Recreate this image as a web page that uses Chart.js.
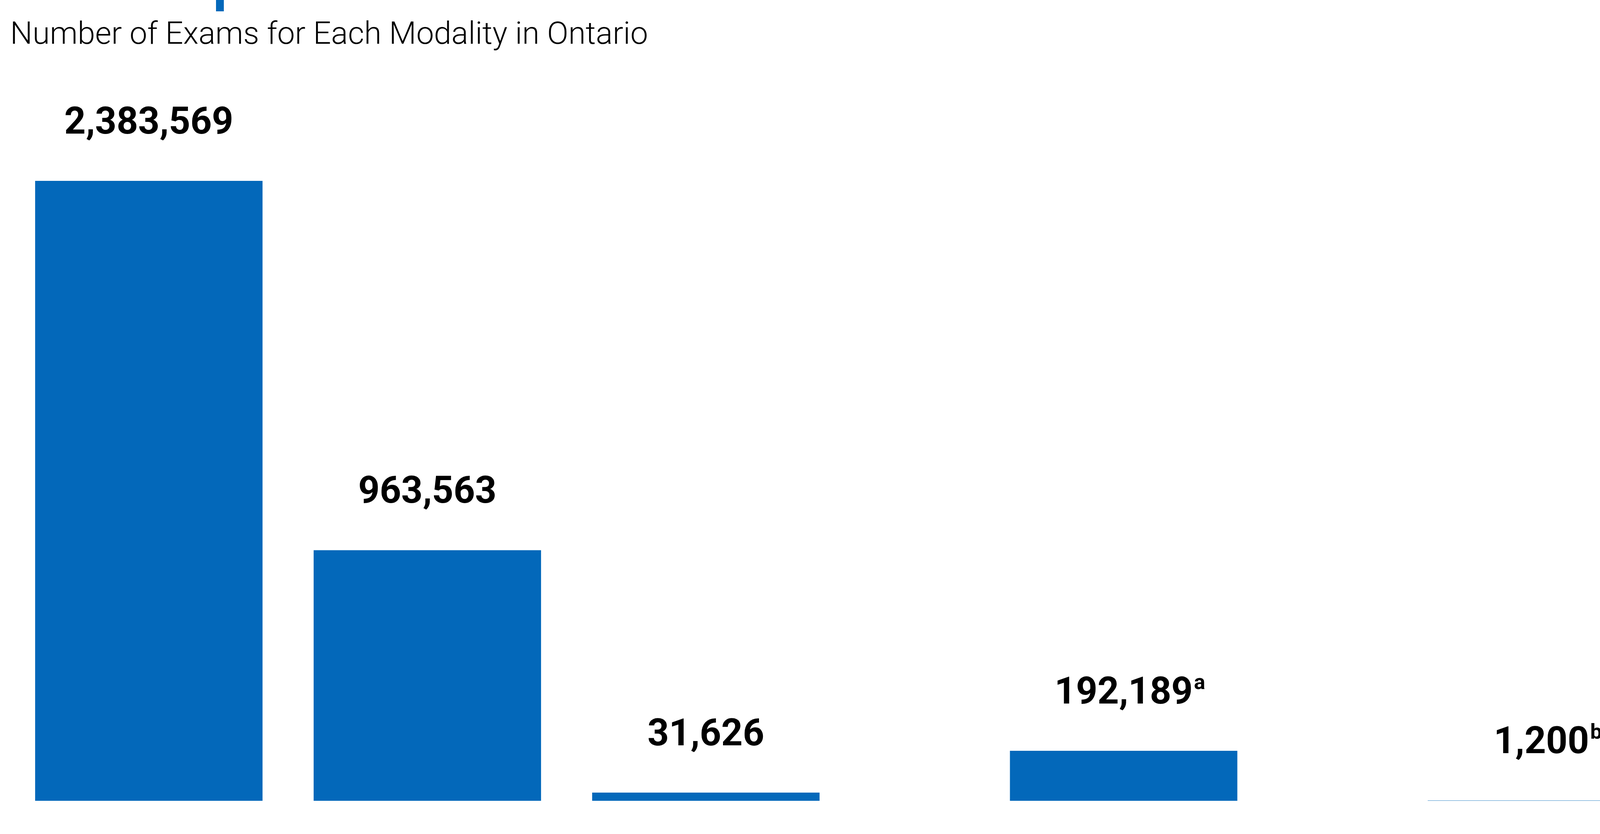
<!DOCTYPE html>
<html><head><meta charset="utf-8">
<script src="https://cdn.jsdelivr.net/npm/chart.js@4"></script>
<style>html,body{margin:0;padding:0;background:#fff}#wrap{width:4270px;height:2135px;position:relative}canvas{display:block}</style>
</head><body><div id="wrap"><canvas id="c" width="4270" height="2135"></canvas></div>
<script>
// ---- data ----
const categories = ['Modality 1', 'Modality 2', 'Modality 3', 'Modality 4', 'Modality 5'];
const examCounts = [2383569, 963563, 31626, 192189, 1200];
const footnotes = ['', '', '', 'a', 'b'];
const chartTitle = 'Number of Exams for Each Modality in Ontario';

// ---- layout (empty slots inserted before each category) ----
const gapsBefore = [0, 1, 1, 2, 2];
const BLUE = '#0368BA';

const slotLabels = [], slotValues = [], slotNotes = [];
categories.forEach((c, i) => {
  for (let g = 0; g < gapsBefore[i]; g++) { slotLabels.push(''); slotValues.push(null); slotNotes.push(''); }
  slotLabels.push(c); slotValues.push(examCounts[i]); slotNotes.push(footnotes[i]);
});

const valueLabels = {
  id: 'valueLabels',
  afterDatasetsDraw(chart) {
    const ctx = chart.ctx;
    const meta = chart.getDatasetMeta(0);
    const data = chart.data.datasets[0].data;
    meta.data.forEach((bar, i) => {
      const v = data[i];
      if (v == null) return;
      const txt = v.toLocaleString('en-US');
      ctx.save();
      ctx.fillStyle = '#000';
      ctx.textBaseline = 'alphabetic';
      ctx.font = '700 96px Roboto';
      ctx.textAlign = 'center';
      const y = bar.y - 121;
      ctx.fillText(txt, bar.x, y);
      const note = slotNotes[i];
      if (note) {
        const w = ctx.measureText(txt).width;
        ctx.font = '700 54px Roboto';
        ctx.textAlign = 'left';
        ctx.fillText(note, bar.x + w / 2 + 3, y - 37);
      }
      ctx.restore();
    });
  }
};

const topMark = {
  id: 'topMark',
  beforeDraw(chart) {
    const ctx = chart.ctx;
    ctx.save();
    ctx.fillStyle = BLUE;
    ctx.fillRect(553, 0, 20, 29);
    ctx.restore();
  }
};

function draw() {
  new Chart(document.getElementById('c'), {
    type: 'bar',
    data: {
      labels: slotLabels,
      datasets: [{
        data: slotValues,
        backgroundColor: BLUE,
        borderWidth: 0,
        barPercentage: 1.633,
        categoryPercentage: 1,
        clip: false
      }]
    },
    options: {
      responsive: false,
      devicePixelRatio: 1,
      animation: false,
      layout: { padding: { left: 26, right: 145.75, top: 0, bottom: 85 } },
      plugins: {
        legend: { display: false },
        tooltip: { enabled: false },
        title: {
          display: true, text: chartTitle, align: 'start', color: '#000',
          font: { family: 'Roboto', size: 80.5, weight: 300, lineHeight: 1.2 },
          padding: { top: 44, bottom: 0 }
        }
      },
      scales: {
        x: { display: false, offset: true, grid: { display: false } },
        y: {
          display: true, min: 0, max: 2868000,
          ticks: { display: false }, grid: { display: false }, border: { display: false },
          afterFit(s) { s.width = 176.75; }
        }
      }
    },
    plugins: [valueLabels, topMark]
  });
}
if (document.fonts && document.fonts.load) {
  Promise.all([document.fonts.load('300 80px Roboto'), document.fonts.load('700 96px Roboto')]).then(draw, draw);
} else { draw(); }
</script>
</body></html>
